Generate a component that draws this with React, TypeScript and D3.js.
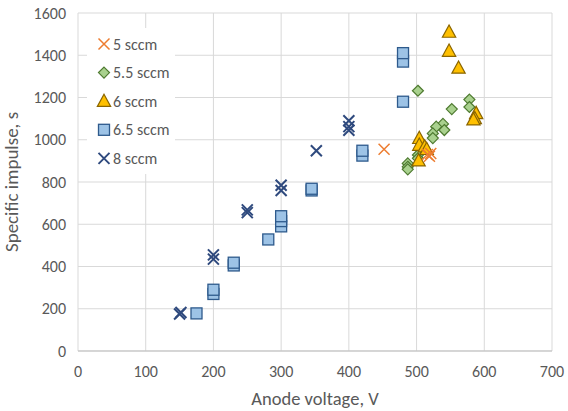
import React from 'react';
import * as d3 from 'd3';

// anode voltage (V) vs specific impulse (s), one pair of arrays per flow rate
const v5 = [452, 516, 519, 521];
const isp5 = [955, 930, 922, 935];

const v55 = [502, 578, 578, 552, 539, 541, 529, 524, 524, 502, 502, 487, 487, 487];
const isp55 = [1232, 1190, 1155, 1145, 1075, 1046, 1062, 1030, 1008, 928, 912, 888, 872, 860];

const v6 = [548, 548, 562, 588, 586, 584, 504, 504, 512, 515, 503];
const isp6 = [1510, 1420, 1340, 1125, 1101, 1095, 1007, 975, 967, 955, 901];

const v65 = [175, 200, 200, 230, 230, 281, 300, 300, 300, 345, 345, 420, 420, 480, 480, 480];
const isp65 = [178, 270, 290, 405, 418, 528, 590, 615, 638, 760, 768, 925, 948, 1180, 1370, 1410];

const v8 = [150, 152, 200, 200, 250, 250, 300, 300, 352, 400, 400, 400];
const isp8 = [175, 182, 435, 455, 655, 668, 760, 785, 948, 1090, 1062, 1045];

const seriesNames = ['5 sccm', '5.5 sccm', '6 sccm', '6.5 sccm', '8 sccm'];
const xTicks = [0, 100, 200, 300, 400, 500, 600, 700];
const yTicks = [0, 200, 400, 600, 800, 1000, 1200, 1400, 1600];

const W = 568;
const H = 411;
const font = 'Carlito, "Open Sans", "Liberation Sans", sans-serif';

type Kind = 'xo' | 'diamond' | 'tri' | 'square' | 'xb';

const Marker = ({ kind, x, y }: { kind: Kind; x: number; y: number }) => {
  if (kind === 'xo' || kind === 'xb') {
    const r = 5.5;
    return (
      <path
        d={`M${x - r},${y - r}L${x + r},${y + r}M${x - r},${y + r}L${x + r},${y - r}`}
        stroke={kind === 'xo' ? '#ED7D31' : '#2F4A7E'}
        strokeWidth={kind === 'xo' ? 1.5 : 2}
        fill="none"
      />
    );
  }
  if (kind === 'diamond') {
    const r = 5.5;
    return (
      <path
        d={`M${x},${y - r}L${x + r},${y}L${x},${y + r}L${x - r},${y}Z`}
        fill="#A9D18E"
        stroke="#4E7A30"
        strokeWidth={1.2}
      />
    );
  }
  if (kind === 'tri') {
    const r = 7;
    return (
      <path
        d={`M${x},${y - r}L${x + r * 0.95},${y + r * 0.75}L${x - r * 0.95},${y + r * 0.75}Z`}
        fill="#FFC000"
        stroke="#8A6500"
        strokeWidth={1.2}
      />
    );
  }
  const s = 5.5;
  return (
    <rect x={x - s} y={y - s} width={2 * s} height={2 * s} fill="#9DC3E6" stroke="#2E5A8C" strokeWidth={1.3} />
  );
};

const App = () => {
  const x = d3.scaleLinear().domain([0, 700]).range([78, 552]);
  const y = d3.scaleLinear().domain([0, 1600]).range([351, 13]);

  const series: { name: string; kind: Kind; xs: number[]; ys: number[] }[] = [
    { name: seriesNames[0], kind: 'xo', xs: v5, ys: isp5 },
    { name: seriesNames[1], kind: 'diamond', xs: v55, ys: isp55 },
    { name: seriesNames[2], kind: 'tri', xs: v6, ys: isp6 },
    { name: seriesNames[3], kind: 'square', xs: v65, ys: isp65 },
    { name: seriesNames[4], kind: 'xb', xs: v8, ys: isp8 },
  ];
  // drawing order: blue ones first, then the others on top
  const drawOrder = [3, 4, 1, 2, 0];

  return (
    <svg width={W} height={H} style={{ position: 'absolute', left: 0, top: 0, background: '#fff' }} fontFamily={font}>
      <rect width={W} height={H} fill="#fff" />
      {/* grid */}
      {yTicks.map(t => (
        <line key={'gy' + t} x1={x(0)} x2={x(700)} y1={y(t)} y2={y(t)} stroke="#D9D9D9" strokeWidth={1} />
      ))}
      {xTicks.map(t => (
        <line key={'gx' + t} x1={x(t)} x2={x(t)} y1={y(0)} y2={y(1600)} stroke="#D9D9D9" strokeWidth={1} />
      ))}
      <line x1={x(0)} x2={x(700)} y1={y(0)} y2={y(0)} stroke="#BFBFBF" />
      {/* tick labels */}
      {yTicks.map(t => (
        <text key={'ly' + t} x={x(0) - 12} y={y(t)} dy="0.35em" textAnchor="end" fontSize={16} fill="#595959">
          {t}
        </text>
      ))}
      {xTicks.map(t => (
        <text key={'lx' + t} x={x(t)} y={y(0) + 26} textAnchor="middle" fontSize={16} fill="#595959">
          {t}
        </text>
      ))}
      <text x={(x(0) + x(700)) / 2} y={405} textAnchor="middle" fontSize={18.5} fill="#595959">
        Anode voltage, V
      </text>
      <text
        transform={`translate(18,${(y(0) + y(1600)) / 2}) rotate(-90)`}
        textAnchor="middle"
        fontSize={19}
        fill="#595959"
      >
        Specific impulse, s
      </text>
      {/* points */}
      {drawOrder.map(i => (
        <g key={series[i].name}>
          {series[i].xs.map((v, j) => (
            <Marker key={j} kind={series[i].kind} x={x(v)} y={y(series[i].ys[j])} />
          ))}
        </g>
      ))}
      {/* legend */}
      <rect x={87} y={28} width={88} height={146} fill="#fff" />
      {series.map((s, i) => (
        <g key={'lg' + s.name}>
          <Marker kind={s.kind} x={104} y={44 + i * 28.6} />
          <text x={113} y={44 + i * 28.6} dy="0.35em" fontSize={16} fill="#595959">
            {s.name}
          </text>
        </g>
      ))}
    </svg>
  );
};

export default App;
